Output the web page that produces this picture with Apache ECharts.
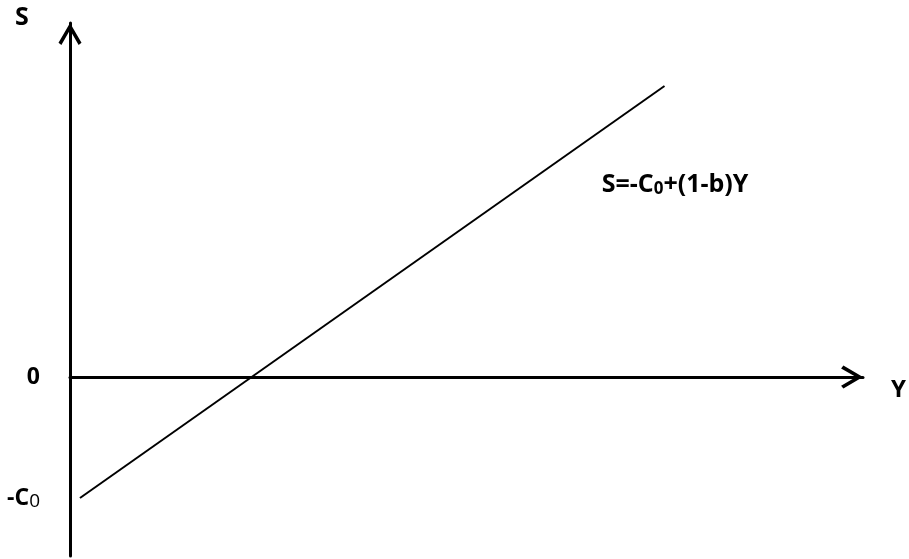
<!DOCTYPE html>
<html>
<head>
<meta charset="utf-8">
<script src="https://cdn.jsdelivr.net/npm/echarts@6/dist/echarts.min.js"></script>
<style>
  html, body { margin: 0; padding: 0; background: #fff; }
  #chart { width: 909px; height: 559px; }
</style>
</head>
<body>
<div id="chart"></div>
<script>
// saving function S = -C0 + (1-b)Y (axis units ~ pixels)
const lineY = [10, 596]
const lineS = [-121, 291]
const sTicks = [0, -121]
const sTickLabels = ['0', '-C0']
const eqPoint = [533, 192]

const font = '"Open Sans", "Liberation Sans", sans-serif'
// open chevron arrow head, pointing up
const chevron = 'path://M0,17 L10,0 L20,17 L17.5,19 L10,6 L2.5,19 Z'

const chart = echarts.init(document.getElementById('chart'))

const option = {
  animation: false,
  backgroundColor: '#fff',
  grid: { left: 70, right: 44, top: 23, bottom: 3, containLabel: false },
  xAxis: {
    type: 'value',
    min: 0,
    max: 795,
    name: 'Y',
    nameLocation: 'end',
    nameGap: 28,
    nameTextStyle: {
      color: '#000', fontFamily: font, fontWeight: 'bold', fontSize: 24,
      verticalAlign: 'top', padding: [1, 0, 0, 0]
    },
    axisLine: {
      onZero: true,
      symbol: ['none', chevron],
      symbolSize: [23, 22],
      symbolOffset: [0, -11],
      lineStyle: { color: '#000', width: 3 }
    },
    axisTick: { show: false },
    axisLabel: { show: false },
    splitLine: { show: false }
  },
  yAxis: {
    type: 'value',
    min: -179,
    max: 354,
    name: 'S',
    nameLocation: 'end',
    nameGap: 5,
    nameTextStyle: {
      color: '#000', fontFamily: font, fontWeight: 'bold', fontSize: 25,
      verticalAlign: 'middle', align: 'center', padding: [0, 96, 0, 0]
    },
    axisLine: {
      show: true,
      onZero: true,
      symbol: ['none', chevron],
      symbolSize: [23, 22],
      symbolOffset: [0, -11],
      lineStyle: { color: '#000', width: 3 }
    },
    axisTick: { show: false },
    axisLabel: {
      show: true,
      margin: 30,
      customValues: sTicks,
      formatter: v => {
        const i = sTicks.indexOf(v)
        if (i === 1) return '{b|-C}{s|0}'
        return '{b|' + sTickLabels[0] + '}'
      },
      rich: {
        b: { color: '#000', fontFamily: font, fontWeight: 'bold', fontSize: 23 },
        s: { color: '#000', fontFamily: font, fontWeight: 'normal', fontSize: 19, padding: [7, 0, 0, 0] }
      }
    },
    splitLine: { show: false }
  },
  series: [
    {
      type: 'line',
      data: lineY.map((y, i) => [y, lineS[i]]),
      symbol: 'none',
      lineStyle: { color: '#000', width: 2 },
      markPoint: {
        symbolSize: 0,
        data: [{ coord: eqPoint }],
        label: {
          show: true,
          position: 'right',
          distance: 0,
          formatter: '{b|S=-C}{s|0}{b|+(1-b)Y}',
          rich: {
            b: { color: '#000', fontFamily: font, fontWeight: 'bold', fontSize: 25 },
            s: { color: '#000', fontFamily: font, fontWeight: 'bold', fontSize: 17, padding: [8, 0, 0, 0] }
          }
        }
      }
    }
  ]
}

chart.setOption(option)
</script>
</body>
</html>
